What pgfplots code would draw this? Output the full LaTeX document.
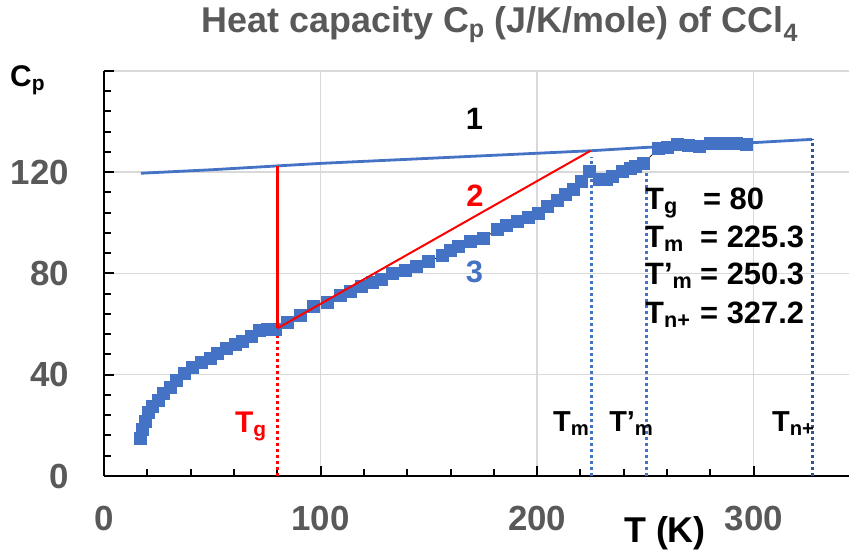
\documentclass[border=0pt]{standalone}
\usepackage{fontspec}
\setmainfont{Liberation Sans}
\usepackage{pgfplots}
\pgfplotsset{compat=1.18}
\definecolor{ser}{HTML}{4472C4}
\definecolor{tickgray}{HTML}{595959}
\definecolor{gridgray}{HTML}{D9D9D9}
\definecolor{navy}{HTML}{2F5597}
\newcommand{\fs}[1]{\fontsize{#1}{#1}\selectfont\bfseries}
\tikzset{tdots/.style={line width=3bp, dash pattern=on 3bp off 3bp}}

\begin{document}
\begin{tikzpicture}[x=1bp,y=1bp]
\begin{axis}[
  at={(0,0)}, anchor=south west,
  scale only axis, width=745bp, height=405bp,
  xmin=0, xmax=344, ymin=0, ymax=160,
  axis x line*=bottom, axis y line*=left,
  axis line style={line width=2.5bp, black},
  xtick={0,100,200,300}, minor x tick num=4,
  ytick={0,40,80,120,160}, yticklabels={0,40,80,120,{}}, minor y tick num=4,
  tick align=inside, major tick length=10bp, minor tick length=7bp,
  tick style={black, line width=2bp},
  grid=major, major grid style={draw=gridgray, line width=1.5bp},
  ticklabel style={font=\fs{35}, text=tickgray, inner sep=0pt},
  /pgf/number format/assume math mode=true,
  xticklabel style={anchor=north, yshift=-30bp},
  yticklabel style={anchor=east, xshift=-35bp},
  clip=false, clip marker paths=true,
]

% curve 1
\addplot[ser, line width=2.8bp] coordinates {
  (17,119.6) (50,121) (80,122.5) (100,123.5) (150,125.5) (200,127.5)
  (225,128.5) (250,129.8) (300,131.7) (327,133)
};

% dotted markers of the temperatures
\addplot[red, tdots] coordinates {(80,0) (80,57)};
\addplot[ser, tdots] coordinates {(225.3,0) (225.3,126)};
\addplot[ser, tdots] coordinates {(250.3,0) (250.3,123)};
\addplot[navy, tdots] coordinates {(327.2,0) (327.2,133)};

% curve 3 (measured)
\addplot[black, line width=0.8bp, mark=square*, mark size=6bp,
  mark options={fill=ser, draw=ser, line width=0pt}] coordinates {
  (17,15) (18,18.5) (19,21.5) (20.5,25) (22.5,27.5) (25,30) (27.5,32.5)
  (30.5,35) (33.5,37.8) (37,40.5) (41,43) (45,45) (49,46.6) (52.6,48.5)
  (56.7,50.5) (60.5,51.8) (64,53) (68,55) (72,57.5) (75.5,58) (79,58)
  (84.5,60.8) (90.5,63.6) (96.6,66.8) (103,68.7) (109,71.5) (114,73)
  (119,74.8) (124,76.6) (128,77.8) (133.4,79.8) (139,81.3) (144.5,82.7)
  (150,84.8) (156.5,87.3) (160,89) (163.5,90.6) (169,92.5) (175,93.9)
  (181.5,97.2) (186,99) (191,100.5) (196,102.2) (200.5,103.8) (205,106.3)
  (209.6,109) (213,111.2) (216.6,113) (220.7,116.3) (224.4,120.2)
  (229,117) (232,117.3) (235,118.3) (239.6,120.2) (243,121.3) (245.6,122.2)
  (249,123.5) (256,129.3) (260,129.8) (265,130.8) (270,130.6) (275,130)
  (280,131.2) (284,131.4) (288,131.4) (292,131.4) (296.5,130.8)
};

% curve 2
\addplot[red, line width=2.5bp] coordinates {(80,122.5) (80,58.3)};
\addplot[red, line width=2bp] coordinates {(80,58.3) (224.7,128.5)};

% labels
\node[anchor=base, font=\fs{31}, text=black] at (axis cs:171,136.7) {1};
\node[anchor=base, font=\fs{31}, text=red] at (axis cs:171.3,106.3) {2};
\node[anchor=base, font=\fs{31}, text=ser] at (axis cs:171,76.3) {3};

\node[anchor=base west, inner sep=0pt, font=\fs{30}, text=red] at (axis cs:60.5,17) {T\textsubscript{g}};
\node[anchor=base west, inner sep=0pt, font=\fs{29}] at (axis cs:207.3,17.4) {T\textsubscript{m}};
\node[anchor=base west, inner sep=0pt, font=\fs{29}] at (axis cs:233.2,17.4) {T’\textsubscript{m}};
\node[anchor=base west, inner sep=0pt, font=\fs{29}] at (axis cs:308.4,17.4) {T\textsubscript{n+}};

\node[anchor=base west, inner sep=0pt, font=\fs{31}] at (axis cs:249.8,105.1) {T\textsubscript{g}};
\node[anchor=base west, inner sep=0pt, font=\fs{31}] at (axis cs:276.5,105.1) {= 80};
\node[anchor=base west, inner sep=0pt, font=\fs{31}] at (axis cs:249.8,90.1) {T\textsubscript{m}};
\node[anchor=base west, inner sep=0pt, font=\fs{31}] at (axis cs:275.2,90.1) {= 225.3};
\node[anchor=base west, inner sep=0pt, font=\fs{31}] at (axis cs:249.8,75.5) {T’\textsubscript{m}};
\node[anchor=base west, inner sep=0pt, font=\fs{31}] at (axis cs:275.2,75.5) {= 250.3};
\node[anchor=base west, inner sep=0pt, font=\fs{31}] at (axis cs:249.8,60.4) {T\textsubscript{n+}};
\node[anchor=base west, inner sep=0pt, font=\fs{31}] at (axis cs:275.2,60.4) {= 327.2};
\end{axis}

% title and axis labels
\node[anchor=base, inner sep=0pt, font=\fs{36}, text=tickgray] at (396,443)
  {Heat capacity C\textsubscript{p} (J/K/mole) of CCl\textsubscript{4}};
\node[anchor=base west, inner sep=0pt, font=\fs{30}] at (-94,389) {C\textsubscript{p}};
\node[anchor=base, inner sep=0pt, font=\fs{36}] at (561,-67) {T (K)};

\pgfresetboundingbox
\path[use as bounding box] (-104,-79) rectangle (745,476);
\end{tikzpicture}
\end{document}
